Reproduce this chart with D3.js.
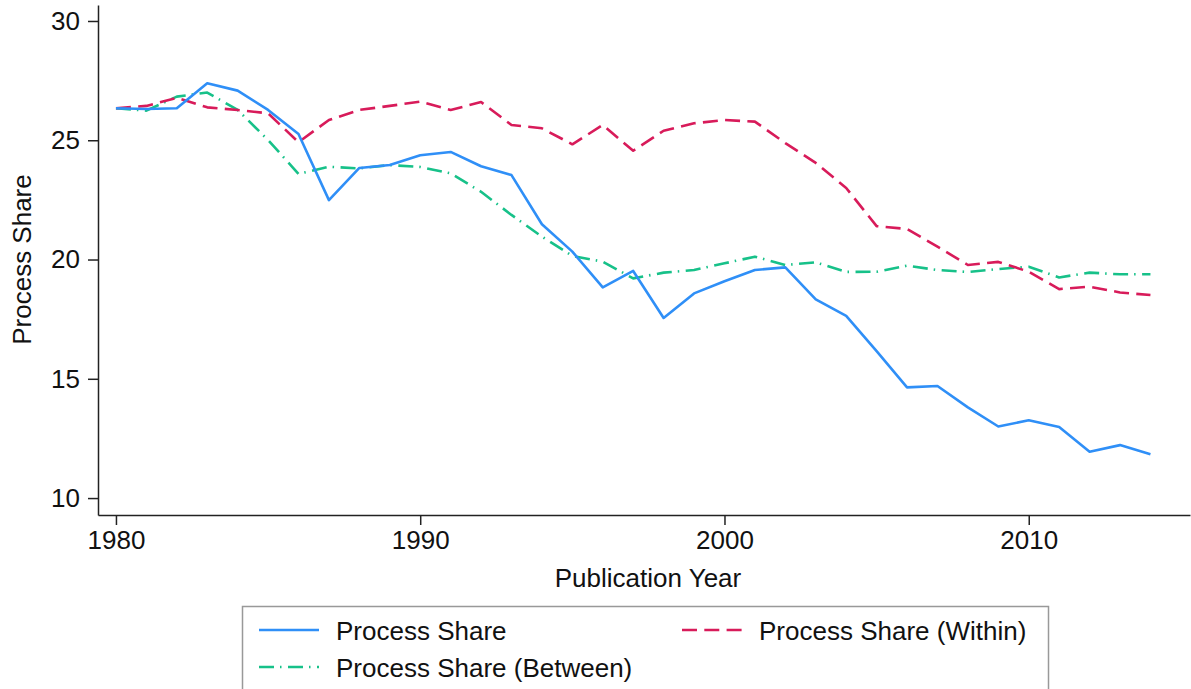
<!DOCTYPE html>
<html>
<head>
<meta charset="utf-8">
<script src="https://cdn.jsdelivr.net/npm/d3@7"></script>
<style>
  body { margin: 0; background: #fff; }
  text { font-family: "Liberation Sans", Arial, Helvetica, sans-serif; fill: #111; }
</style>
</head>
<body>
<div id="chart"></div>
<script>
// data
const years = d3.range(1980, 2015);
const processShare = [26.34, 26.31, 26.34, 27.39, 27.08, 26.27, 25.26, 22.49, 23.84, 23.96,
  24.37, 24.51, 23.91, 23.54, 21.48, 20.33, 18.83, 19.52, 17.55, 18.58,
  19.09, 19.56, 19.67, 18.33, 17.64, 16.16, 14.64, 14.7, 13.8, 13.0,
  13.26, 12.98, 11.94, 12.22, 11.84];
const processWithin = [26.34, 26.44, 26.78, 26.38, 26.27, 26.13, 24.92, 25.85, 26.27, 26.44,
  26.62, 26.27, 26.6, 25.64, 25.5, 24.83, 25.64, 24.56, 25.4, 25.71,
  25.85, 25.78, 24.88, 24.05, 23.0, 21.4, 21.28, 20.54, 19.77, 19.9,
  19.49, 18.76, 18.86, 18.62, 18.51];
const processBetween = [26.34, 26.24, 26.83, 27.0, 26.27, 25.01, 23.59, 23.89, 23.82, 23.96,
  23.88, 23.61, 22.84, 21.87, 20.96, 20.15, 19.91, 19.21, 19.45, 19.56,
  19.84, 20.12, 19.77, 19.88, 19.48, 19.49, 19.74, 19.56, 19.48, 19.6,
  19.7, 19.25, 19.45, 19.38, 19.38];
const xTicks = [1980, 1990, 2000, 2010];
const yTicks = [10, 15, 20, 25, 30];

const series = [
  { name: "Process Share", values: processShare, color: "#2f8ff7", dash: null },
  { name: "Process Share (Within)", values: processWithin, color: "#d81b5a", dash: "15,7.3" },
  { name: "Process Share (Between)", values: processBetween, color: "#17c189", dash: "15,6,1.5,6.5" }
];

var width = 1191;
var height = 689;
var margin = { top: 5, right: 1, bottom: 174, left: 98 };

var svg = d3.select("#chart")
  .append("svg")
  .attr("width", width)
  .attr("height", height);

var x = d3.scaleLinear()
  .domain([1979.41, 2015.3])
  .range([margin.left, width - margin.right]);

var y = d3.scaleLinear()
  .domain([9.29, 30.67])
  .range([height - margin.bottom, margin.top]);

// axes
svg.append("g")
  .attr("transform", "translate(0," + (height - margin.bottom) + ")")
  .call(d3.axisBottom(x).tickValues(xTicks).tickFormat(d3.format("d")).tickSize(10).tickPadding(6).tickSizeOuter(0));

svg.append("g")
  .attr("transform", "translate(" + margin.left + ",0)")
  .call(d3.axisLeft(y).tickValues(yTicks).tickSize(10).tickPadding(8).tickSizeOuter(0));

svg.selectAll(".domain, .tick line")
  .attr("stroke", "#222")
  .attr("stroke-width", 1.5);
svg.selectAll(".tick text")
  .style("font-size", "26px")
  .attr("fill", "#111");

// axis titles
svg.append("text")
  .attr("x", (x(1979.41) + x(2015.3)) / 2 + 4)
  .attr("y", 587)
  .attr("text-anchor", "middle")
  .style("font-size", "26px")
  .text("Publication Year");

svg.append("text")
  .attr("transform", "translate(31," + y(20) + ") rotate(-90)")
  .attr("text-anchor", "middle")
  .style("font-size", "26px")
  .text("Process Share");

// lines
var line = d3.line()
  .x((d, i) => x(years[i]))
  .y(d => y(d));

series.slice().reverse().forEach(s => {
  svg.append("path")
    .datum(s.values)
    .attr("d", line)
    .attr("fill", "none")
    .attr("stroke", s.color)
    .attr("stroke-width", 2.6)
    .attr("stroke-linejoin", "round")
    .attr("stroke-dasharray", s.dash);
});

// legend
var legend = svg.append("g");
legend.append("rect")
  .attr("x", 242.5)
  .attr("y", 606.5)
  .attr("width", 806)
  .attr("height", 100)
  .attr("fill", "#fff")
  .attr("stroke", "#999")
  .attr("stroke-width", 1.5);

var legendItems = [
  { s: series[0], lx: 259, ly: 630 },
  { s: series[1], lx: 682, ly: 630 },
  { s: series[2], lx: 259, ly: 667 }
];
legendItems.forEach(it => {
  legend.append("line")
    .attr("x1", it.lx).attr("x2", it.lx + 60)
    .attr("y1", it.ly).attr("y2", it.ly)
    .attr("stroke", it.s.color)
    .attr("stroke-width", 2.6)
    .attr("stroke-dasharray", it.s.dash);
  legend.append("text")
    .attr("x", it.lx + 77)
    .attr("y", it.ly + 10)
    .style("font-size", "26px")
    .text(it.s.name);
});
</script>
</body>
</html>
